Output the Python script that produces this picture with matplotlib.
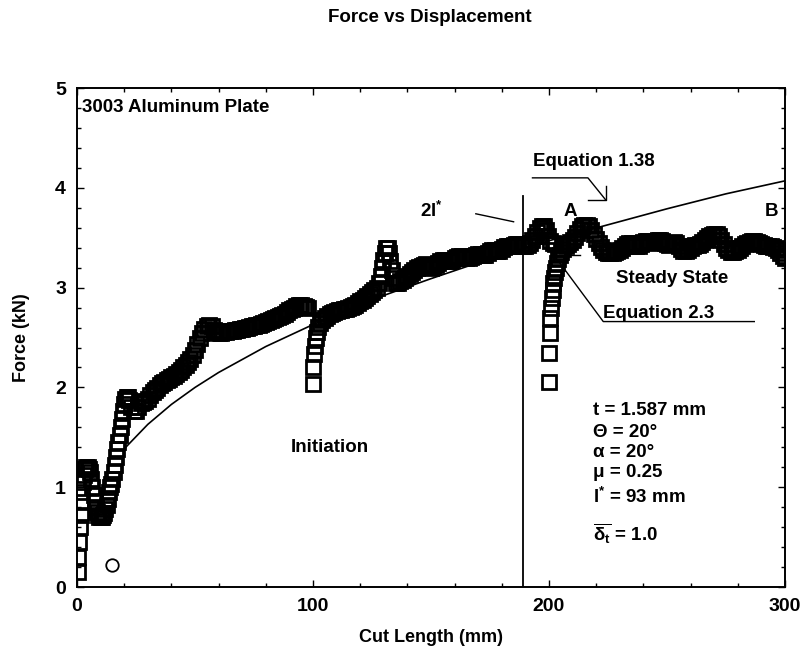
import numpy as np
import matplotlib
matplotlib.use('Agg')
import matplotlib.pyplot as plt

plt.rcParams['font.family'] = ['Liberation Sans', 'DejaVu Sans']
plt.rcParams['font.weight'] = 'bold'
plt.rcParams['axes.labelweight'] = 'bold'
plt.rcParams['mathtext.fontset'] = 'custom'
plt.rcParams['mathtext.rm'] = 'Liberation Sans:bold'
plt.rcParams['mathtext.it'] = 'Liberation Sans:bold'
plt.rcParams['mathtext.bf'] = 'Liberation Sans:bold'

# first cut (initiation)
x1 = [0.3, 0.6, 0.9, 1.2, 1.5, 1.8, 2.2, 2.6, 3.0, 3.5, 4.0, 4.5, 5.0, 5.5, 6.0, 6.5, 7.0, 7.5,
      8.0, 8.5, 9.0, 9.5, 10, 10.5, 11, 11.5, 12, 12.5, 13, 13.5, 14, 14.5, 15, 15.5, 16, 16.5,
      17, 17.5, 18, 18.5, 19, 19.5, 20, 20.5, 21, 21.5, 22, 23, 24, 25, 26, 27, 28, 29, 30, 31,
      32, 33, 34, 35, 36, 37, 38, 39, 40, 41, 42, 43, 44, 45, 46, 47, 48, 49, 50, 51, 52, 53,
      54, 55, 56, 57, 58, 59, 60, 61, 62, 63, 64, 65, 66, 67, 68, 69, 70, 71, 72, 73, 74, 75,
      76, 77, 78, 79, 80, 81, 82, 83, 84, 85, 86, 87, 88, 89, 90, 91, 92, 93, 94, 95, 96, 97, 98]
y1 = [0.15, 0.3, 0.45, 0.6, 0.72, 0.85, 0.95, 1.05, 1.12, 1.18, 1.2, 1.2, 1.18, 1.15, 1.08, 1.0, 0.92, 0.85,
      0.8, 0.75, 0.72, 0.7, 0.7, 0.7, 0.72, 0.74, 0.78, 0.82, 0.88, 0.95, 1.0, 1.03, 1.08, 1.15, 1.22, 1.3,
      1.38, 1.45, 1.52, 1.6, 1.68, 1.76, 1.83, 1.88, 1.9, 1.9, 1.87, 1.8, 1.76, 1.76, 1.8, 1.84, 1.85, 1.86, 1.88, 1.92,
      1.95, 1.97, 1.99, 2.02, 2.04, 2.05, 2.07, 2.08, 2.1, 2.11, 2.13, 2.15, 2.17, 2.2, 2.22, 2.25, 2.28, 2.32, 2.38, 2.44, 2.5, 2.55,
      2.59, 2.62, 2.63, 2.62, 2.58, 2.56, 2.55, 2.55, 2.56, 2.56, 2.57, 2.57, 2.57, 2.58, 2.58, 2.59, 2.59, 2.6, 2.6, 2.61, 2.62, 2.62,
      2.63, 2.63, 2.64, 2.65, 2.66, 2.67, 2.68, 2.69, 2.7, 2.71, 2.72, 2.73, 2.74, 2.76, 2.78, 2.79, 2.8, 2.82, 2.83, 2.83, 2.82, 2.81, 2.8]

# second cut
x2 = [100, 100.2, 100.5, 100.8, 101.2, 101.7, 102.3, 103, 104, 105, 106, 107, 108, 109, 110, 111, 112,
      113, 114, 115, 116, 117, 118, 119, 120, 121, 122, 123, 124, 125, 126, 127, 128, 128.6, 129.2, 129.8,
      130.4, 131, 131.6, 132.2, 132.8, 133.4, 134, 135, 136, 137, 138, 139, 140, 141, 142, 143, 144, 145,
      146, 147, 148, 149, 150, 151, 152, 153, 154, 155, 156, 157, 158, 159, 160, 161, 162, 163, 164, 165,
      166, 167, 168, 169, 170, 171, 172, 173, 174, 175, 176, 177, 178, 179, 180, 181, 182, 183, 184, 185,
      186, 187, 188, 189, 190, 191, 192, 193, 194, 195, 196, 197, 198, 198.8, 199.5, 200.5, 201.5, 202.5]
y2 = [2.03, 2.2, 2.33, 2.42, 2.5, 2.56, 2.61, 2.65, 2.68, 2.7, 2.72, 2.74, 2.75, 2.76, 2.77, 2.78, 2.78,
      2.79, 2.79, 2.8, 2.81, 2.82, 2.83, 2.85, 2.87, 2.88, 2.9, 2.92, 2.94, 2.96, 2.98, 3.0, 3.05, 3.12, 3.2, 3.28,
      3.35, 3.4, 3.4, 3.35, 3.27, 3.18, 3.1, 3.05, 3.05, 3.07, 3.08, 3.1, 3.12, 3.14, 3.16, 3.18, 3.2, 3.21,
      3.22, 3.23, 3.24, 3.22, 3.2, 3.21, 3.23, 3.25, 3.27, 3.28, 3.28, 3.27, 3.27, 3.28, 3.3, 3.31, 3.32, 3.32, 3.31, 3.3,
      3.3, 3.31, 3.32, 3.33, 3.34, 3.34, 3.33, 3.33, 3.35, 3.37, 3.38, 3.38, 3.37, 3.37, 3.39, 3.41, 3.42, 3.42, 3.42, 3.43,
      3.44, 3.44, 3.43, 3.42, 3.42, 3.43, 3.45, 3.48, 3.52, 3.56, 3.6, 3.62, 3.62, 3.58, 3.52, 3.47, 3.45, 3.44]

# third cut (steady state)
x3 = [200, 200, 200.3, 200.6, 200.9, 201.2, 201.5, 201.8, 202.2, 202.6, 203, 203.5, 204, 204.6, 205.3, 206,
      207, 208, 209, 210, 211, 212, 213, 214, 215, 216, 217, 218, 219, 220, 221, 222, 223, 224, 225, 226,
      227, 228, 229, 230, 231, 232, 233, 234, 235, 236, 237, 238, 239, 240, 241, 242, 243, 244, 245, 246,
      247, 248, 249, 250, 251, 252, 253, 254, 255, 256, 257, 258, 259, 260, 261, 262, 263, 264, 265, 266,
      267, 268, 269, 270, 271, 272, 273, 274, 275, 276, 277, 278, 279, 280, 281, 282, 283, 284, 285, 286,
      287, 288, 289, 290, 291, 292, 293, 294, 295, 296, 297, 298, 299, 300]
y3 = [2.05, 2.35, 2.55, 2.7, 2.8, 2.9, 2.98, 3.05, 3.1, 3.16, 3.2, 3.25, 3.29, 3.33, 3.36, 3.39,
      3.42, 3.44, 3.46, 3.48, 3.51, 3.55, 3.59, 3.62, 3.63, 3.63, 3.62, 3.58, 3.54, 3.49, 3.45, 3.41, 3.38, 3.36, 3.35, 3.35,
      3.35, 3.36, 3.37, 3.38, 3.4, 3.42, 3.44, 3.45, 3.45, 3.44, 3.42, 3.42, 3.44, 3.46, 3.47, 3.47, 3.46, 3.45, 3.46, 3.48,
      3.48, 3.47, 3.45, 3.44, 3.43, 3.44, 3.46, 3.45, 3.42, 3.39, 3.37, 3.37, 3.38, 3.4, 3.42, 3.43, 3.43, 3.44, 3.46, 3.48,
      3.5, 3.52, 3.53, 3.54, 3.54, 3.52, 3.48, 3.44, 3.4, 3.38, 3.36, 3.36, 3.37, 3.38, 3.4, 3.42, 3.44, 3.45, 3.46, 3.47,
      3.47, 3.46, 3.45, 3.44, 3.43, 3.42, 3.42, 3.42, 3.41, 3.4, 3.38, 3.35, 3.32, 3.3]

# Equation 1.38 curve
xe = [19.4, 30, 40, 50, 60, 80, 100, 125, 150, 175, 200, 225, 250, 275, 300]
ye = [1.37, 1.63, 1.83, 2.0, 2.15, 2.41, 2.63, 2.88, 3.09, 3.29, 3.47, 3.63, 3.79, 3.94, 4.07]

circle_x, circle_y = 15, 0.22
l_star2 = 189

params = ['t = 1.587 mm', '\u0398 = 20\u00b0', '\u03b1 = 20\u00b0', '\u03bc = 0.25',
          'l$^{*}$ = 93 mm']
params_y = [1.77, 1.55, 1.35, 1.15, 0.9]

fs = 13.5

fig = plt.figure(figsize=(8.1, 6.57), dpi=100)
ax = fig.add_axes([0.0951, 0.1065, 0.874, 0.7595])

for xs, ys in [(x1, y1), (x2, y2), (x3, y3)]:
    ax.plot(xs, ys, ls='none', marker='s', ms=9.5, mfc='none', mec='black', mew=2.0)
ax.plot(xe, ye, color='black', lw=1.2)
ax.plot(circle_x, circle_y, ls='none', marker='o', ms=9, mfc='white', mec='black', mew=1.3)

ax.plot([l_star2, l_star2], [0, 3.92], color='black', lw=1.3)

# annotations
ax.text(2, 4.8, '3003 Aluminum Plate', fontsize=fs, va='center', ha='left')
ax.text(107, 1.4, 'Initiation', fontsize=fs, va='center', ha='center')
ax.text(150, 3.77, '2l$^{*}$', fontsize=fs, va='center', ha='center')
ax.plot([169, 185], [3.74, 3.66], color='black', lw=1)
ax.text(219, 4.26, 'Equation 1.38', fontsize=fs, va='center', ha='center')
ax.plot([193, 216.5, 224], [4.1, 4.1, 3.88], color='black', lw=1)
ax.plot([216.5, 224, 224], [3.88, 3.88, 4.02], color='black', lw=1)
ax.text(209, 3.76, 'A', fontsize=fs, va='center', ha='center')
ax.text(294.5, 3.76, 'B', fontsize=fs, va='center', ha='center')
ax.text(252, 3.09, 'Steady State', fontsize=fs, va='center', ha='center')
ax.text(223, 2.74, 'Equation 2.3', fontsize=fs, va='center', ha='left')
ax.plot([287, 223, 202], [2.66, 2.66, 3.33], color='black', lw=1)
ax.plot([202, 213], [3.33, 3.33], color='black', lw=1)

for s, yy in zip(params, params_y):
    ax.text(218.6, yy, s, fontsize=fs, va='center', ha='left')
ax.text(218.6, 0.54, r'$\overline{\delta_{t}}$ = 1.0', fontsize=fs, va='center', ha='left')

ax.set_xlim(0, 300)
ax.set_ylim(0, 5)
ax.set_xticks([0, 100, 200, 300])
ax.set_yticks([0, 1, 2, 3, 4, 5])
ax.set_xticks(np.arange(0, 301, 20), minor=True)
ax.set_yticks(np.arange(0, 5.01, 0.2), minor=True)
ax.tick_params(which='both', direction='in', top=True, right=True, labelsize=14, width=1)
ax.tick_params(which='major', length=5, pad=8)
ax.tick_params(which='minor', length=3)
for sp in ax.spines.values():
    sp.set_linewidth(1.4)

ax.set_xlabel('Cut Length (mm)', fontsize=13, fontweight='bold', labelpad=10)
ax.set_ylabel('Force (kN)', fontsize=13, fontweight='bold', labelpad=18)
fig.text(0.531, 0.973, 'Force vs Displacement', fontsize=13.5, fontweight='bold', ha='center', va='center')

fig.savefig('out.png', dpi=100)
